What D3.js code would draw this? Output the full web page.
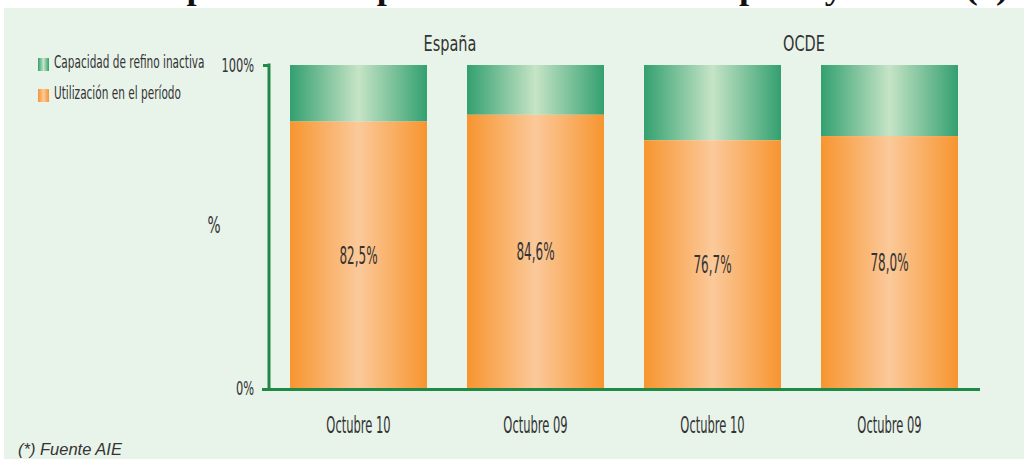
<!DOCTYPE html>
<html>
<head>
<meta charset="utf-8">
<script src="https://cdn.jsdelivr.net/npm/d3@7/dist/d3.min.js"></script>
<style>
  html, body { margin: 0; padding: 0; background: #ffffff; }
  svg { display: block; }
  .cond { font-family: "DejaVu Sans", "Liberation Sans", sans-serif; fill: #333333; }
</style>
</head>
<body>
<svg id="chart" width="1024" height="459"></svg>
<script>
// Refining capacity: used vs idle, Spain and OECD
const periods   = ["Octubre 10", "Octubre 09", "Octubre 10", "Octubre 09"];
const regions   = ["España", "España", "OCDE", "OCDE"];
const utilised  = [82.5, 84.6, 76.7, 78.0];
const valueText = ["82,5%", "84,6%", "76,7%", "78,0%"];
const yTicks    = [0, 100];
const legendLabels = ["Capacidad de refino inactiva", "Utilización en el período"];

const svg = d3.select("#chart");
const W = 1024, H = 459;

// narrow lettering: draw a normal face and squeeze it horizontally
function narrowText(parent, px, py, txt, size, sx, anchor) {
  return parent.append("text").attr("class", "cond")
    .attr("transform", `translate(${px},${py}) scale(${sx},1)`)
    .attr("text-anchor", anchor || "middle")
    .style("font-size", size + "px").text(txt);
}

// page panel
svg.append("rect").attr("x", 0).attr("y", 0).attr("width", W).attr("height", H).attr("fill", "#ffffff");

// heading (sits above the panel, only its lower part shows)
svg.append("text")
  .attr("x", 132).attr("y", -1)
  .attr("textLength", 876).attr("lengthAdjust", "spacingAndGlyphs")
  .style("font-family", "'Liberation Serif', 'DejaVu Serif', serif")
  .style("font-weight", "bold").style("font-size", "32px").attr("fill", "#111")
  .text("Empleo de la capacidad de refino en España y OCDE (*)");
svg.append("rect").attr("x", 4).attr("y", 8).attr("width", W - 4).attr("height", H - 8).attr("fill", "#e8f3ea");

const defs = svg.append("defs");
function hGrad(id, edge, mid) {
  const g = defs.append("linearGradient").attr("id", id).attr("x1", "0").attr("x2", "1").attr("y1", "0").attr("y2", "0");
  g.append("stop").attr("offset", "0%").attr("stop-color", edge);
  g.append("stop").attr("offset", "50%").attr("stop-color", mid);
  g.append("stop").attr("offset", "100%").attr("stop-color", edge);
}
hGrad("gOrange", "#f7952f", "#fbc99a");
hGrad("gGreen", "#33a070", "#c6e4c6");

const keys = d3.range(periods.length);
const x = d3.scaleBand().domain(keys).range([270, 978]).paddingInner(0.226).paddingOuter(0.113);
const y = d3.scaleLinear().domain([0, 100]).range([388, 65]);

// idle capacity (top part, up to 100%)
svg.append("g").selectAll("rect").data(keys).join("rect")
  .attr("x", i => x(i)).attr("width", x.bandwidth())
  .attr("y", y(100)).attr("height", i => y(utilised[i]) - y(100))
  .attr("fill", "url(#gGreen)");

// utilisation
svg.append("g").selectAll("rect").data(keys).join("rect")
  .attr("x", i => x(i)).attr("width", x.bandwidth())
  .attr("y", i => y(utilised[i])).attr("height", i => y(0) - y(utilised[i]))
  .attr("fill", "url(#gOrange)");

// value labels in the middle of the orange part
const valueLayer = svg.append("g");
keys.forEach(i => {
  narrowText(valueLayer, x(i) + x.bandwidth() / 2, (y(utilised[i]) + y(0)) / 2 + 9,
    valueText[i], 24, 0.5);
});

// axes
const axisColor = "#1f8a45";
const ySx = 0.6;
const yAxis = svg.append("g").attr("transform", "translate(269,0)")
  .call(d3.axisLeft(y).tickValues(yTicks).tickSize(6).tickFormat(d => d + "%"));
yAxis.select(".domain").remove();
yAxis.selectAll(".tick line").attr("stroke", axisColor).attr("stroke-width", 3);
yAxis.selectAll(".tick").filter(d => d === 0).select("line").remove();
yAxis.selectAll(".tick text").attr("class", "cond")
  .attr("x", -15 / ySx).attr("dy", "0.36em")
  .attr("transform", `scale(${ySx},1)`)
  .style("font-size", "19px");
svg.append("line").attr("x1", 269).attr("x2", 269).attr("y1", y(100) - 1.5).attr("y2", 390)
  .attr("stroke", axisColor).attr("stroke-width", 3);
svg.append("line").attr("x1", 262).attr("x2", 980).attr("y1", 389.5).attr("y2", 389.5)
  .attr("stroke", axisColor).attr("stroke-width", 3);

// category labels
const xAxis = svg.append("g").attr("transform", "translate(0,389)")
  .call(d3.axisBottom(x).tickSize(0).tickFormat(i => periods[i]));
xAxis.select(".domain").remove();
xAxis.selectAll(".tick text").attr("class", "cond")
  .attr("y", 44).attr("dy", null)
  .attr("transform", "scale(0.5,1)")
  .style("font-size", "23px");

// region headers
const regionNames = Array.from(new Set(regions));
regionNames.forEach(r => {
  const idx = keys.filter(i => regions[i] === r);
  const cx = (x(idx[0]) + x(idx[idx.length - 1]) + x.bandwidth()) / 2;
  narrowText(svg, cx + 3, 51, r, 22, 0.66);
});

// y title
narrowText(svg, 214, 233, "%", 23, 0.6);

// legend
const legendFills = ["url(#gGreen)", "url(#gOrange)"];
legendLabels.forEach((l, k) => {
  const top = 58 + k * 31;
  svg.append("rect").attr("x", 38).attr("y", top).attr("width", 11).attr("height", 13)
    .attr("fill", legendFills[k]);
  narrowText(svg, 54, top + 10, l, 17, 0.62, "start");
});

// source note
svg.append("text").attr("x", 18).attr("y", 455)
  .style("font-family", "'Liberation Sans', Arial, sans-serif").style("font-style", "italic")
  .style("font-size", "16.5px").attr("fill", "#333").text("(*) Fuente AIE");
</script>
</body>
</html>
